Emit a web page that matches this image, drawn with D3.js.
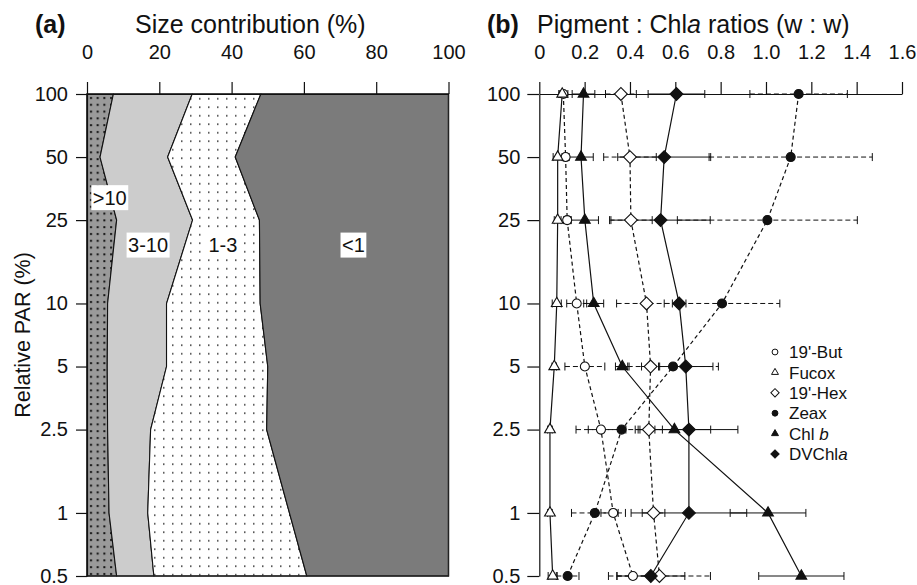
<!DOCTYPE html>
<html>
<head>
<meta charset="utf-8">
<script src="https://cdn.jsdelivr.net/npm/d3@7"></script>
<style>
body { margin: 0; background: #fff; }
svg { font-family: "Liberation Sans", Arial, Helvetica, sans-serif; }
</style>
</head>
<body>
<div id="chart"></div>
<script>
// relative PAR levels (y axis, log)
var par = [100, 50, 25, 10, 5, 2.5, 1, 0.5];

// (a) size contribution (%) per class
var sizeClasses = [">10", "3-10", "1-3", "<1"];
var gt10  = [7.3, 3.6, 8.2, 5.7, 5.6, 5.7, 6.1, 8.2];
var s3_10 = [21.8, 18.7, 21.0, 16.3, 16.4, 11.9, 10.7, 10.3];
var s1_3  = [19.0, 18.7, 18.5, 25.9, 28.0, 32.1, 39.2, 42.3];
var lt1   = [51.9, 59.0, 52.3, 52.1, 50.0, 50.3, 44.0, 39.2];
var sizeTicks = [0, 20, 40, 60, 80, 100];
// label anchors [class, % , PAR]
var sizeLabels = [[">10", 6.3, 32], ["3-10", 16.9, 19], ["1-3", 37.6, 19], ["<1", 73.7, 19]];

// (b) pigment : Chl a ratios, mean and error
var pigNames = ["19'-But", "Fucox", "19'-Hex", "Zeax", "Chl b", "DVChla"];
var butMean = [0.106, 0.116, 0.123, 0.165, 0.201, 0.272, 0.326, 0.413];
var butErr  = [0.02, 0.015, 0.015, 0.044, 0.088, 0.11, 0.054, 0.07];
var fucMean = [0.101, 0.081, 0.081, 0.077, 0.066, 0.047, 0.047, 0.059];
var fucErr  = [0.01, 0.02, 0.015, 0.02, 0.01, 0.01, 0.01, 0.02];
var hexMean = [0.360, 0.400, 0.404, 0.473, 0.491, 0.483, 0.504, 0.530];
var hexErr  = [0.068, 0.116, 0.094, 0.132, 0.04, 0.06, 0.05, 0.225];
var zeaMean = [1.144, 1.109, 1.006, 0.806, 0.590, 0.363, 0.245, 0.125];
var zeaErr  = [0.215, 0.36, 0.397, 0.255, 0.2, 0.147, 0.103, 0.05];
var chbMean = [0.195, 0.184, 0.201, 0.240, 0.366, 0.596, 1.009, 1.156];
var chbErr  = [0.05, 0.054, 0.06, 0.044, 0.03, 0.16, 0.167, 0.188];
var dvaMean = [0.605, 0.551, 0.535, 0.617, 0.646, 0.660, 0.660, 0.492];
var dvaErr  = [0.125, 0.205, 0.219, 0.03, 0.12, 0.216, 0.255, 0.15];
var ratioTicks = [0, 0.2, 0.4, 0.6, 0.8, 1.0, 1.2, 1.4, 1.6];

var width = 917, height = 585;
var svg = d3.select("#chart").append("svg")
    .attr("width", width)
    .attr("height", height);

var defs = svg.append("defs");
var pd = defs.append("pattern").attr("id", "dotsDark")
    .attr("patternUnits", "userSpaceOnUse")
    .attr("x", 87).attr("y", 94).attr("width", 6.7).attr("height", 6.8);
pd.append("rect").attr("width", 6.7).attr("height", 6.8).attr("fill", "#9a9a9a");
pd.append("rect").attr("x", 3).attr("y", 3).attr("width", 2).attr("height", 2).attr("fill", "#111");
var pl = defs.append("pattern").attr("id", "dotsLight")
    .attr("patternUnits", "userSpaceOnUse")
    .attr("x", 87).attr("y", 94).attr("width", 9).attr("height", 8.5);
pl.append("rect").attr("width", 9).attr("height", 8.5).attr("fill", "#fff");
pl.append("rect").attr("x", 4).attr("y", 4).attr("width", 1.5).attr("height", 1.5).attr("fill", "#333");

var y = d3.scaleLog().domain([100, 0.5]).range([94, 576]);
var xa = d3.scaleLinear().domain([0, 100]).range([87, 448.5]);
var xb = d3.scaleLinear().domain([0, 1.6]).range([539.3, 902]);

function styleAxis(g) {
    g.attr("font-size", 20).attr("font-family", null);
    g.selectAll("line").attr("stroke", "#111").attr("stroke-width", 1.2);
    g.selectAll("path").attr("stroke", "#111").attr("stroke-width", 1.2);
    g.selectAll("text").attr("fill", "#111");
}

// ---------- panel (a) ----------
var rows = par.map(function (p, i) {
    return { par: p, ">10": gt10[i], "3-10": s3_10[i], "1-3": s1_3[i], "<1": lt1[i] };
});
var stacked = d3.stack().keys(sizeClasses)(rows);
var fills = ["url(#dotsDark)", "#cccccc", "url(#dotsLight)", "#7b7b7b"];

var area = d3.area()
    .y(function (d) { return y(d.data.par); })
    .x0(function (d) { return xa(d[0]); })
    .x1(function (d) { return xa(d[1]); });

svg.append("g").selectAll("path")
    .data(stacked)
    .join("path")
    .attr("d", area)
    .attr("fill", function (d, i) { return fills[i]; })
    .attr("stroke", "#111")
    .attr("stroke-width", 1.1);

// frame
svg.append("rect")
    .attr("x", xa(0)).attr("y", y(100))
    .attr("width", xa(100) - xa(0)).attr("height", y(0.5) - y(100))
    .attr("fill", "none").attr("stroke", "#222").attr("stroke-width", 1.4);

svg.append("g")
    .attr("transform", "translate(0," + y(100) + ")")
    .call(d3.axisTop(xa).tickValues(sizeTicks).tickFormat(d3.format("d")).tickSize(12).tickPadding(23).tickSizeOuter(0))
    .call(styleAxis);

svg.append("g")
    .attr("transform", "translate(" + xa(0) + ",0)")
    .call(d3.axisLeft(y).tickValues(par).tickFormat(function (d) { return d; }).tickSize(11).tickPadding(8).tickSizeOuter(0))
    .call(styleAxis);

// size class labels
var lab = svg.append("g").selectAll("g")
    .data(sizeLabels)
    .join("g")
    .attr("transform", function (d) { return "translate(" + xa(d[1]) + "," + y(d[2]) + ")"; });
lab.append("text")
    .attr("text-anchor", "middle")
    .attr("dy", "0.35em")
    .attr("font-size", 20)
    .attr("fill", "#111")
    .text(function (d) { return d[0]; });
lab.each(function () {
    var g = d3.select(this);
    var bb = g.select("text").node().getBBox();
    g.insert("rect", "text")
        .attr("x", bb.x - 1.5).attr("y", -12.5)
        .attr("width", bb.width + 3).attr("height", 25)
        .attr("fill", "#fff");
});

// titles
svg.append("text").attr("x", 35).attr("y", 33)
    .attr("font-size", 25).attr("font-weight", "bold").attr("fill", "#111").text("(a)");
svg.append("text").attr("x", 135).attr("y", 33)
    .attr("font-size", 25).attr("fill", "#111").text("Size contribution (%)");

svg.append("text")
    .attr("transform", "translate(30," + ((y(100) + y(0.5)) / 2) + ") rotate(-90)")
    .attr("text-anchor", "middle")
    .attr("font-size", 21.5)
    .attr("fill", "#111")
    .text("Relative PAR (%)");

// ---------- panel (b) ----------
svg.append("g")
    .attr("transform", "translate(0," + y(100) + ")")
    .call(d3.axisTop(xb).tickValues(ratioTicks)
        .tickFormat(function (d) { return d === 0 ? "0" : d3.format(".1f")(d); })
        .tickSize(12).tickPadding(23).tickSizeOuter(0))
    .call(styleAxis);

svg.append("g")
    .attr("transform", "translate(" + xb(0) + ",0)")
    .call(d3.axisLeft(y).tickValues(par).tickFormat(function (d) { return d; }).tickSize(12).tickPadding(7).tickSizeOuter(0))
    .call(styleAxis);

var pigments = [
    { name: pigNames[0], mean: butMean, err: butErr, dashed: true,  shape: "circle",   filled: false },
    { name: pigNames[1], mean: fucMean, err: fucErr, dashed: false, shape: "triangle", filled: false },
    { name: pigNames[2], mean: hexMean, err: hexErr, dashed: true,  shape: "diamond",  filled: false },
    { name: pigNames[3], mean: zeaMean, err: zeaErr, dashed: true,  shape: "circle",   filled: true },
    { name: pigNames[4], mean: chbMean, err: chbErr, dashed: false, shape: "triangle", filled: true },
    { name: pigNames[5], mean: dvaMean, err: dvaErr, dashed: false, shape: "diamond",  filled: true }
];

function symbolPath(shape, scale) {
    if (shape === "circle") return d3.symbol(d3.symbolCircle, 64 * scale)();
    if (shape === "triangle") return d3.symbol(d3.symbolTriangle, 50 * scale)();
    return d3.symbol(d3.symbolSquare, 82 * scale)();
}

var line = d3.line()
    .x(function (d) { return xb(d.v); })
    .y(function (d) { return y(d.p); });

pigments.forEach(function (s) {
    s.pts = par.map(function (p, i) { return { p: p, v: s.mean[i], e: s.err[i] }; });
});

// error bars
var eb = svg.append("g").selectAll("g")
    .data(pigments)
    .join("g")
    .attr("stroke", "#111")
    .attr("stroke-width", 1);
eb.each(function (s) {
    var g = d3.select(this);
    g.selectAll("line.bar").data(s.pts).join("line")
        .attr("class", "bar")
        .attr("x1", function (d) { return xb(d.v - d.e); })
        .attr("x2", function (d) { return xb(d.v + d.e); })
        .attr("y1", function (d) { return y(d.p); })
        .attr("y2", function (d) { return y(d.p); })
        .attr("stroke-dasharray", s.dashed ? "5,3" : null);
    [-1, 1].forEach(function (k) {
        g.selectAll("line.cap" + (k + 1)).data(s.pts).join("line")
            .attr("class", "cap" + (k + 1))
            .attr("x1", function (d) { return xb(d.v + k * d.e); })
            .attr("x2", function (d) { return xb(d.v + k * d.e); })
            .attr("y1", function (d) { return y(d.p) - 4; })
            .attr("y2", function (d) { return y(d.p) + 4; });
    });
});

// profile lines
svg.append("g").selectAll("path")
    .data(pigments)
    .join("path")
    .attr("d", function (s) { return line(s.pts); })
    .attr("fill", "none")
    .attr("stroke", "#111")
    .attr("stroke-width", 1.2)
    .attr("stroke-dasharray", function (s) { return s.dashed ? "4,3" : null; });

// markers
pigments.forEach(function (s) {
    svg.append("g").selectAll("path")
        .data(s.pts)
        .join("path")
        .attr("d", symbolPath(s.shape, 1))
        .attr("transform", function (d) {
            return "translate(" + xb(d.v) + "," + y(d.p) + ")" + (s.shape === "diamond" ? " rotate(45)" : "");
        })
        .attr("fill", s.filled ? "#111" : "#fff")
        .attr("stroke", "#111")
        .attr("stroke-width", 1.1);
});

// legend
var leg = svg.append("g").selectAll("g")
    .data(pigments)
    .join("g")
    .attr("transform", function (d, i) { return "translate(775," + (352 + i * 20.4) + ")"; });
leg.append("path")
    .attr("d", function (s) { return symbolPath(s.shape, 0.42); })
    .attr("transform", function (s) { return s.shape === "diamond" ? "rotate(45)" : null; })
    .attr("fill", function (s) { return s.filled ? "#111" : "#fff"; })
    .attr("stroke", "#111")
    .attr("stroke-width", 1);
leg.append("text")
    .attr("x", 14)
    .attr("dy", "0.36em")
    .attr("font-size", 17)
    .attr("fill", "#111")
    .each(function (s) {
        var t = d3.select(this);
        if (s.name === "Chl b") {
            t.append("tspan").text("Chl ");
            t.append("tspan").attr("font-style", "italic").text("b");
        } else if (s.name === "DVChla") {
            t.append("tspan").text("DVChl");
            t.append("tspan").attr("font-style", "italic").text("a");
        } else {
            t.text(s.name);
        }
    });

svg.append("text").attr("x", 487).attr("y", 33)
    .attr("font-size", 25).attr("font-weight", "bold").attr("fill", "#111").text("(b)");
var tb = svg.append("text").attr("x", 537).attr("y", 33)
    .attr("font-size", 25).attr("fill", "#111");
tb.append("tspan").text("Pigment : Chl");
tb.append("tspan").attr("font-style", "italic").text("a");
tb.append("tspan").text(" ratios (w : w)");
</script>
</body>
</html>
